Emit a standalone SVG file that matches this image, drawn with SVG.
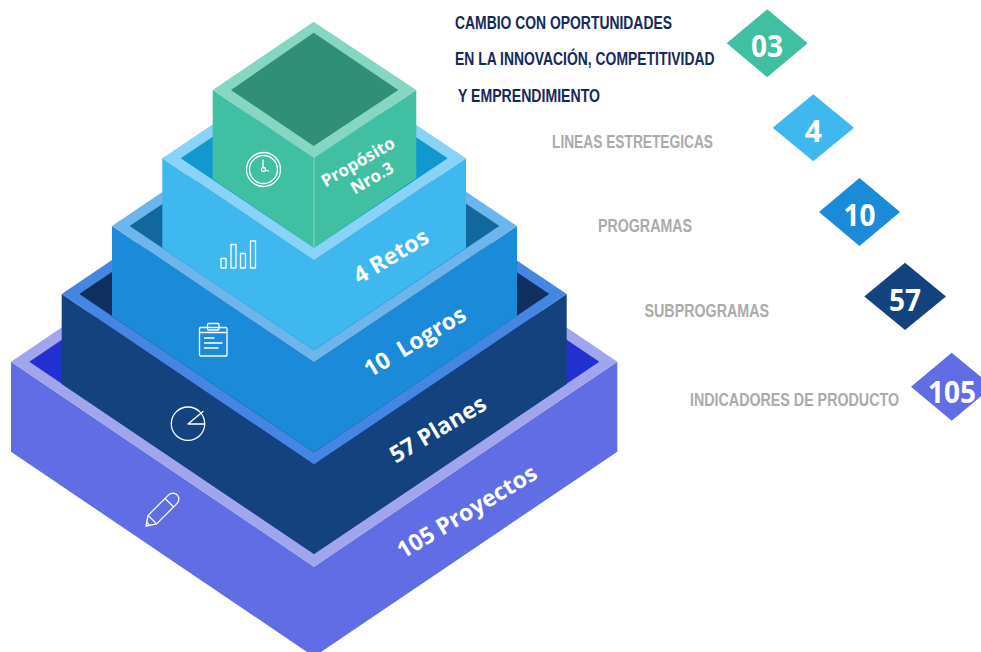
<svg xmlns="http://www.w3.org/2000/svg" width="981" height="652" viewBox="0 0 981 652">
<style>
.lbl{font-family:"Open Sans","Noto Sans",sans-serif;font-weight:700;fill:#fff;text-anchor:middle}
.num{font-family:"Open Sans","Noto Sans",sans-serif;font-weight:700;fill:#fff;text-anchor:middle;font-size:30px}
.dk{font-family:"Liberation Sans",Arial,sans-serif;font-weight:700;fill:#14295C;font-size:18px}
.gr{font-family:"Liberation Sans",Arial,sans-serif;font-weight:700;fill:#ABABAB;font-size:18px}
.ic{fill:none;stroke:#fff;stroke-width:1.3;stroke-linejoin:round;stroke-linecap:round}
</style>
<rect width="981" height="652" fill="#fff"/>
<g id="level-105">
<polygon points="11,361.7 314,566.7 617.3,361.7 617.3,451.7 314,656.7 11,451.7" fill="#606DE4"/>
<polygon points="11,361.7 314,156.7 617.3,361.7 314,566.7" fill="#A0A5EE"/>
<polygon points="29.3,361.7 314,169.7 599.3,361.7 314,554" fill="#2230D0"/>
<g class="ic" transform="translate(146,526) rotate(-45)"><path d="M0,0 L9,-6 H38 A6,6 0 0 1 38,6 H9 Z"/><path d="M9,-6 V6 M3,-2 V2 M33,-6 V6"/></g>
<text class="lbl" font-size="23" transform="translate(471,518.5) rotate(-31)">105 Proyectos</text>
</g>
<g id="level-57">
<polygon points="61.7,294 314,464.3 566.7,294 566.7,384 314,554 61.7,384" fill="#14427F"/>
<polygon points="61.7,294 314,123.7 566.7,294 314,464.3" fill="#4486E2"/>
<polygon points="79.3,294 314,135.7 549.3,294 314,452.3" fill="#0F2F60"/>
<g class="ic"><circle cx="188" cy="423.7" r="16.7"/><path d="M204.5,424 H188 L203,411.5"/></g>
<text class="lbl" font-size="23" transform="translate(442,436) rotate(-31)">57 Planes</text>
</g>
<g id="level-10">
<polygon points="112,226 314,362.3 517,226 517,316 314,452.3 112,316" fill="#1B8AD8"/>
<polygon points="112,226 314,89.7 517,226 314,362.3" fill="#6CB6ED"/>
<polygon points="129.7,226 314,101.7 499.3,226 314,350.3" fill="#12679F"/>
<g class="ic"><rect x="199.5" y="327.5" width="27.5" height="28.5" rx="1"/><rect x="207.5" y="323.5" width="11.5" height="6.5" rx="1"/><path d="M199.5,332.5 H227 M204.5,338 H214 M204.5,343 H222 M204.5,348 H218"/></g>
<text class="lbl" font-size="23" transform="translate(419,348.5) rotate(-31)" xml:space="preserve">10  Logros</text>
</g>
<g id="level-4">
<polygon points="162.3,158.3 314,260.3 466,158.3 466,248 314,350.3 162.3,248" fill="#3EB8EE"/>
<polygon points="162.3,158.3 314,56.3 466,158.3 314,260.3" fill="#88D3F7"/>
<polygon points="180.7,158.3 314,68.9 447.7,158.3 314,247.7" fill="#1298CF"/>
<g class="ic"><rect x="221" y="258.5" width="5" height="9.5"/><rect x="231" y="244.5" width="5" height="23.5"/><rect x="240.5" y="253.5" width="5" height="14.5"/><rect x="250.5" y="241" width="5" height="27"/></g>
<text class="lbl" font-size="23" transform="translate(395,263) rotate(-31)">4 Retos</text>
</g>
<g id="level-3">
<polygon points="212.7,90 314,158.3 416.3,90 416.3,178 314,247.7 212.7,179" fill="#40BFA3"/>
<polygon points="212.7,90 313.7,21.7 416.3,90 314,158.3" fill="#86D7C2"/>
<polygon points="231,90 313.7,32.7 398.3,90 313.7,146" fill="#318F78"/>
<line x1="314" y1="158.3" x2="314" y2="247.7" stroke="#86D7C2" stroke-width="1"/>
<g class="ic" stroke-width="1.2"><circle cx="263.5" cy="169.5" r="17"/><circle cx="263.5" cy="169.5" r="14"/><circle cx="263.5" cy="169.5" r="2"/><path d="M263,160 V167.5 M265.3,170 L268.5,171"/></g>
<text class="lbl" font-size="17" transform="translate(361,167) rotate(-30)">Propósito</text>
<text class="lbl" font-size="17" transform="translate(375,183) rotate(-30)">Nro.3</text>
</g>
<g id="title">
<text class="dk" x="455" y="28.5" textLength="217" lengthAdjust="spacingAndGlyphs">CAMBIO CON OPORTUNIDADES</text>
<text class="dk" x="455" y="65" textLength="259.5" lengthAdjust="spacingAndGlyphs">EN LA INNOVACIÓN, COMPETITIVIDAD</text>
<text class="dk" x="458" y="101.7" textLength="142" lengthAdjust="spacingAndGlyphs">Y EMPRENDIMIENTO</text>
</g>
<g id="key-03"><polygon points="726.7,43.3 767.2,9.3 807.7,43.3 767.2,77.3" fill="#40BFA3"/><text class="num" x="767" y="57.3" textLength="32" lengthAdjust="spacingAndGlyphs">03</text></g>
<g id="key-4"><text class="gr" x="552" y="147.7" textLength="161" lengthAdjust="spacingAndGlyphs">LINEAS ESTRETEGICAS</text><polygon points="772.7,127.8 813.3,94.3 854,127.8 813.3,161.3" fill="#3EB8EE"/><text class="num" x="813.3" y="141.7">4</text></g>
<g id="key-10"><text class="gr" x="598" y="232" textLength="94" lengthAdjust="spacingAndGlyphs">PROGRAMAS</text><polygon points="819,212 859.5,178 900,212 859.5,246" fill="#1B8AD8"/><text class="num" x="859.5" y="226" textLength="32" lengthAdjust="spacingAndGlyphs">10</text></g>
<g id="key-57"><text class="gr" x="644.5" y="316.7" textLength="124.5" lengthAdjust="spacingAndGlyphs">SUBPROGRAMAS</text><polygon points="864.3,296.5 905,262.7 946,296.5 905,330" fill="#14427F"/><text class="num" x="905" y="311" textLength="32" lengthAdjust="spacingAndGlyphs">57</text></g>
<g id="key-105"><text class="gr" x="690" y="406" textLength="209" lengthAdjust="spacingAndGlyphs">INDICADORES DE PRODUCTO</text><polygon points="911,386.7 951.7,352.7 992.5,386.7 951.7,420.7" fill="#606DE4"/><text class="num" x="952" y="402.7" textLength="48" lengthAdjust="spacingAndGlyphs">105</text></g>
</svg>
